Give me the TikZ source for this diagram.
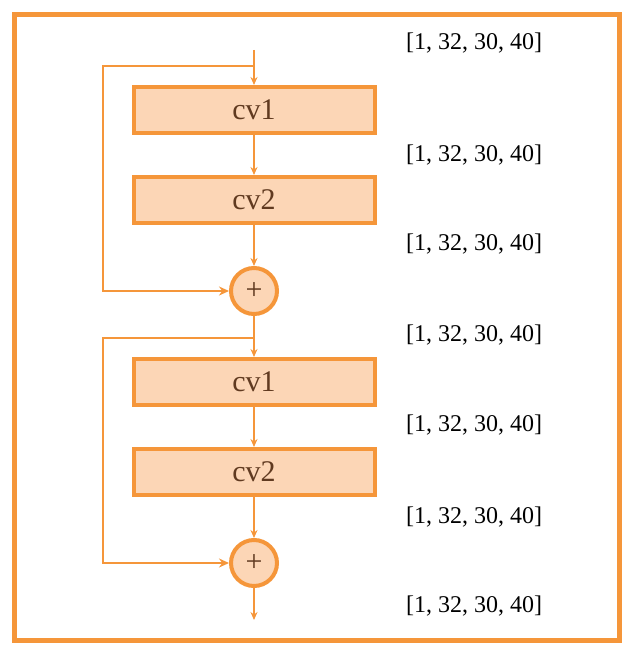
\documentclass[tikz,border=0pt]{standalone}
\usepackage{fontspec}
\setmainfont{Liberation Serif}
\usetikzlibrary{arrows.meta}
\definecolor{orng}{RGB}{245,150,58}
\definecolor{peach}{RGB}{252,214,182}
\definecolor{brwn}{RGB}{96,58,32}

\begin{document}
\begin{tikzpicture}[x=1pt,y=-1pt,
    blk/.style={draw=orng, fill=peach, line width=4pt, minimum width=241pt,
      minimum height=46pt, inner sep=0pt, text=brwn, font=\fontsize{30}{32}\selectfont},
    add/.style={draw=orng, fill=peach, circle, line width=4pt, minimum size=46pt,
      inner sep=0pt, text=brwn, font=\fontsize{30}{32}\selectfont},
    shp/.style={font=\fontsize{24}{27}\selectfont},
    flow/.style={draw=orng, line width=1.6pt, -{Stealth[length=8pt,width=7pt]}},
    skip/.style={draw=orng, line width=2.8pt, -{Stealth[length=10pt,width=9pt]}}]

    \useasboundingbox (0,0) rectangle (634,658);
    \draw[orng, line width=5pt] (14,15) rectangle (619,640);

    % blocks
    \foreach \k/\o in {a/0, b/272}
             { \node (cv1\k) at (254,110+\o) [blk] {cv1};
               \node (cv2\k) at (254,200+\o) [blk] {cv2};
               \node (add\k) at (254,291+\o) [add] {+};
               \coordinate (br\k) at (254,66+\o);
               \draw[flow] (cv1\k) to (cv2\k);
               \draw[flow] (cv2\k) to (add\k);
               \draw[skip] (br\k) -- ++(-151,0) |- (add\k);}

    \coordinate (in) at (254,50);
    \coordinate (out) at (254,620);
    \draw[flow] (in) to (cv1a);
    \draw[flow] (adda) to (cv1b);
    \draw[flow] (addb) to (out);

    % shapes
    \foreach \y in {43,155,244,335,425,517,606}
             { \node (s\y) at (474,\y) [shp] {[1, 32, 30, 40]};}

\end{tikzpicture}
\end{document}
